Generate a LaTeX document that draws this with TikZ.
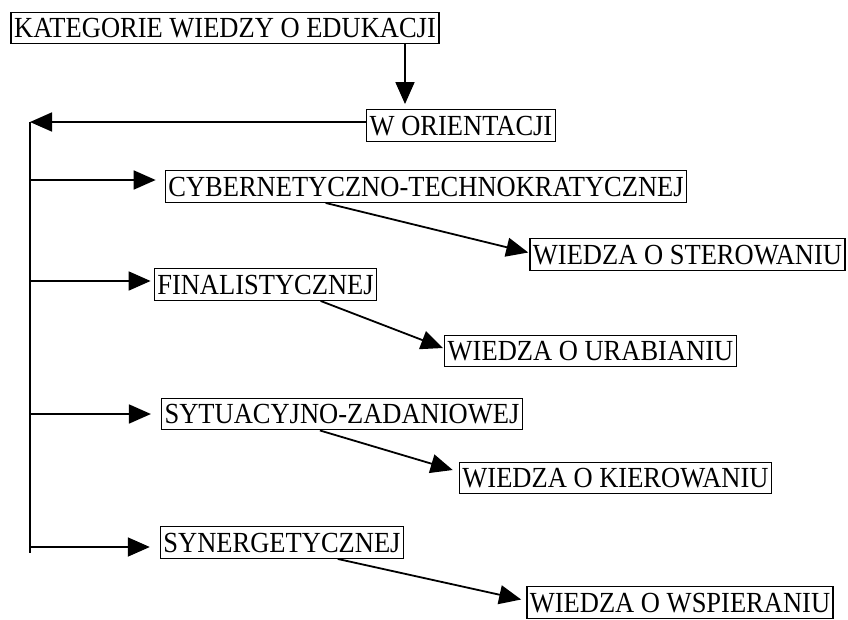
\documentclass[tikz,border=0pt]{standalone}
\usepackage{fontspec}
\setmainfont{Liberation Serif}
\usetikzlibrary{arrows.meta}
\newcommand\vstr[1]{\scalebox{1}[1.1]{#1}}
\begin{document}
\begin{tikzpicture}[x=1pt,y=-1pt,
  box/.style={draw, line width=1.4pt, inner xsep=3pt, inner ysep=0pt,
    minimum height=31.5pt, text depth=0pt, font=\fontsize{26.5}{30}\selectfont},
  arr/.style={line width=1.8pt, -{Triangle[length=22pt,width=19pt]}},
  ln/.style={line width=1.8pt}]
\path[use as bounding box, fill=white] (0,0) rectangle (848,619);

\node[box] (kat) at (225,28) {\vstr{KATEGORIE WIEDZY O EDUKACJI}};
\node[box] (ori) at (461,125.5) {\vstr{W ORIENTACJI}};
\node[box] (cyb) at (426,186.5) {\vstr{CYBERNETYCZNO-TECHNOKRATYCZNEJ}};
\node[box] (ster) at (687.5,254.5) {\vstr{WIEDZA O STEROWANIU}};
\node[box] (fin) at (265.5,284.5) {\vstr{FINALISTYCZNEJ}};
\node[box] (ura) at (590.5,351) {\vstr{WIEDZA O URABIANIU}};
\node[box] (syt) at (342,414) {\vstr{SYTUACYJNO-ZADANIOWEJ}};
\node[box] (kie) at (615.5,478) {\vstr{WIEDZA O KIEROWANIU}};
\node[box] (syn) at (282,542.5) {\vstr{SYNERGETYCZNEJ}};
\node[box] (wsp) at (680,602.5) {\vstr{WIEDZA O WSPIERANIU}};

\coordinate (top) at (30,122);
\coordinate (bot) at (30,553);
\coordinate (b1) at (30,180);
\coordinate (b2) at (30,281);
\coordinate (b3) at (30,414);
\coordinate (b4) at (30,547);

\draw[arr] ([xshift=180pt]kat.south) -- ([xshift=-56pt,yshift=5pt]ori.north);
\draw[arr] ([yshift=3.5pt]ori.west) -- (top);
\draw[ln] (top) -- (bot);

\draw[arr] (b1) -- ([xshift=-9pt]cyb.west |- b1);
\draw[arr] (b2) -- ([xshift=-3pt]fin.west |- b2);
\draw[arr] (b3) -- ([xshift=-10pt]syt.west |- b3);
\draw[arr] (b4) -- ([xshift=-10pt]syn.west |- b4);

\draw[arr] ([xshift=161pt]cyb.south west) -- ([xshift=-1pt,yshift=2pt]ster.west);
\draw[arr] ([xshift=167pt]fin.south west) -- ([xshift=-1pt,yshift=3pt]ura.west);
\draw[arr] ([xshift=159pt]syt.south west) -- ([xshift=-6pt,yshift=8pt]kie.west);
\draw[arr] ([xshift=178pt]syn.south west) -- ([xshift=-5pt,yshift=3pt]wsp.west);
\end{tikzpicture}
\end{document}
